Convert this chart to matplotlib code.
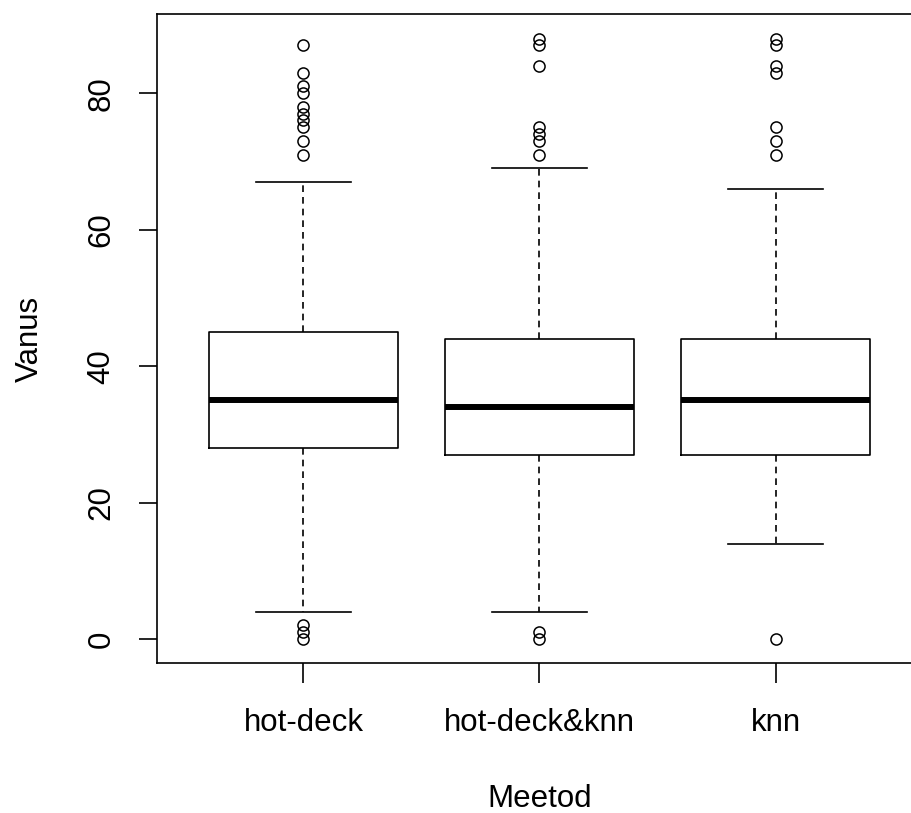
import matplotlib
matplotlib.use("Agg")
import matplotlib.pyplot as plt

plt.rcParams['font.family'] = ['Liberation Sans', 'DejaVu Sans']

metodid = ["hot-deck", "hot-deck&knn", "knn"]
q1 = [28, 27, 27]
mediaan = [35, 34, 35]
q3 = [45, 44, 44]
vurr_alumine = [4, 4, 14]
vurr_ulemine = [67, 69, 66]
erindid = [
    [87, 83, 81, 80, 78, 77, 76, 75, 73, 71, 2, 1, 0],
    [88, 87, 84, 75, 74, 73, 71, 1, 0],
    [88, 87, 84, 83, 75, 73, 71, 0],
]

stats = []
for i in range(len(metodid)):
    stats.append({
        "label": metodid[i],
        "q1": q1[i], "med": mediaan[i], "q3": q3[i],
        "whislo": vurr_alumine[i], "whishi": vurr_ulemine[i],
        "fliers": erindid[i],
    })

fig = plt.figure(figsize=(9.12, 8.13), dpi=100)
ax = fig.add_axes([157 / 912, 150 / 813, 765 / 912, 649 / 813])

ax.bxp(stats, positions=[1, 2, 3], widths=0.8, capwidths=0.4,
       boxprops=dict(color="black", linewidth=1.2),
       whiskerprops=dict(color="black", linewidth=1.2, linestyle=(0, (4, 3))),
       capprops=dict(color="black", linewidth=1.2),
       medianprops=dict(color="black", linewidth=4.3, solid_capstyle="butt"),
       flierprops=dict(marker="o", markerfacecolor="none", markeredgecolor="black",
                       markersize=8, markeredgewidth=1.1))

ax.set_xlim(0.38, 3.62)
ax.set_ylim(-3.5, 91.6)
ax.set_yticks([0, 20, 40, 60, 80])
ax.set_yticklabels(["0", "20", "40", "60", "80"], rotation=90, va="center")
ax.tick_params(axis="both", width=1.2, labelsize=22.5, colors="black")
ax.tick_params(axis="y", length=13, pad=16)
ax.tick_params(axis="x", length=14.4, pad=18)
for s in ax.spines.values():
    s.set_linewidth(1.2)
ax.spines["right"].set_visible(False)

ax.set_xlabel("Meetod", fontsize=22.5, labelpad=33)
ax.set_ylabel("Vanus", fontsize=22.5, labelpad=30)

fig.savefig("out.png", dpi=100)
